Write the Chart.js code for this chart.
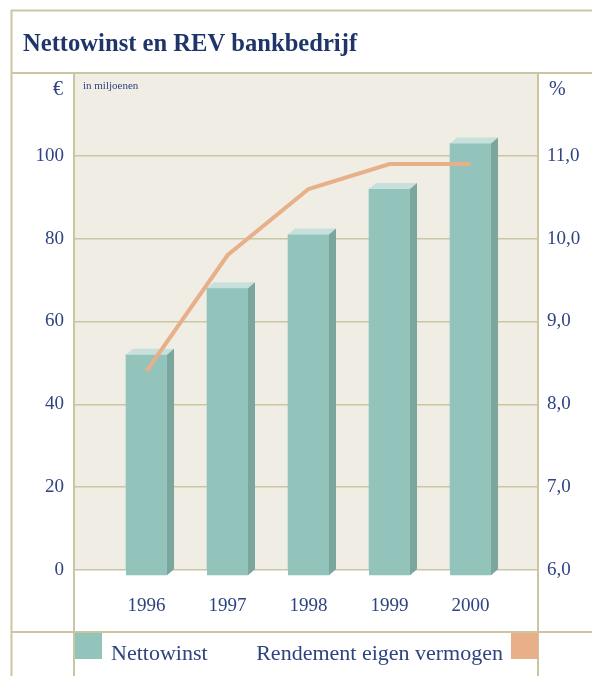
<!DOCTYPE html>
<html>
<head>
<meta charset="utf-8">
<script src="https://cdn.jsdelivr.net/npm/chart.js@4/dist/chart.umd.min.js"></script>
<style>
  html, body { margin: 0; padding: 0; background: #fff; }
  canvas { display: block; }
</style>
</head>
<body>
<canvas id="chart" width="592" height="676"></canvas>
<script>
const years = ['1996', '1997', '1998', '1999', '2000'];
const nettowinst = [52, 68, 81, 92, 103];       // € mln, left axis
const rendement = [8.4, 9.8, 10.6, 10.9, 10.9]; // %, right axis

const navy = '#2e4380';
const titleBlue = '#1f3569';
const rule = '#cbc6a1';
const paper = '#f0ede4';
const teal = '#93c4bc';
const tealTop = '#c8e0db';
const tealSide = '#7aa69e';
const salmon = '#e8b089';
const serif = "'Liberation Serif', 'DejaVu Serif', serif";

const depth = { dx: 7, dy: 6 };

// beige plot background
const paperBg = {
  id: 'paperBg',
  beforeDraw(chart) {
    const { ctx, chartArea: a } = chart;
    ctx.save();
    ctx.fillStyle = paper;
    ctx.fillRect(a.left, a.top, a.right - a.left, a.bottom - a.top);
    ctx.restore();
  }
};

// fake 3d faces on the bars, drawn before the line
const bars3d = {
  id: 'bars3d',
  afterDatasetDraw(chart, args) {
    if (args.meta.type !== 'bar') return;
    const { ctx } = chart;
    args.meta.data.forEach((bar) => {
      const { x, y, base, width } = bar.getProps(['x', 'y', 'base', 'width'], true);
      const l = x - width / 2, r = x + width / 2;
      ctx.save();
      ctx.fillStyle = teal;
      ctx.fillRect(l, y, width, base + depth.dy - y);
      ctx.fillStyle = tealTop;
      ctx.beginPath();
      ctx.moveTo(l, y);
      ctx.lineTo(l + depth.dx, y - depth.dy);
      ctx.lineTo(r + depth.dx, y - depth.dy);
      ctx.lineTo(r, y);
      ctx.closePath();
      ctx.fill();
      ctx.fillStyle = tealSide;
      ctx.beginPath();
      ctx.moveTo(r, y);
      ctx.lineTo(r + depth.dx, y - depth.dy);
      ctx.lineTo(r + depth.dx, base);
      ctx.lineTo(r, base + depth.dy);
      ctx.closePath();
      ctx.fill();
      ctx.restore();
    });
  }
};

// frame rules, title, units and legend
const frame = {
  id: 'frame',
  afterDraw(chart) {
    const { ctx, chartArea: a, width, height } = chart;
    const legendY = 632;
    ctx.save();
    ctx.strokeStyle = rule;
    ctx.lineWidth = 2;
    ctx.beginPath();
    ctx.moveTo(11, 10.5); ctx.lineTo(width, 10.5);
    ctx.moveTo(11.5, 10); ctx.lineTo(11.5, height);
    ctx.moveTo(11, a.top); ctx.lineTo(width, a.top);
    ctx.moveTo(11, legendY); ctx.lineTo(width, legendY);
    ctx.moveTo(a.left, a.top); ctx.lineTo(a.left, height);
    ctx.moveTo(a.right, a.top); ctx.lineTo(a.right, height);
    ctx.stroke();

    ctx.fillStyle = titleBlue;
    ctx.font = 'bold 24.6px ' + serif;
    ctx.textBaseline = 'alphabetic';
    ctx.textAlign = 'left';
    ctx.fillText('Nettowinst en REV bankbedrijf', 23, 51);

    ctx.fillStyle = navy;
    ctx.font = '20px ' + serif;
    ctx.textAlign = 'right';
    ctx.fillText('€', a.left - 11, 95);
    ctx.textAlign = 'left';
    ctx.fillText('%', a.right + 11, 95);
    ctx.font = '11px ' + serif;
    ctx.fillText('in miljoenen', a.left + 9, 89);

    const [lineDs, barDs] = chart.data.datasets;
    ctx.fillStyle = barDs.backgroundColor;
    ctx.fillRect(a.left + 1, legendY + 1, 27, 26);
    ctx.fillStyle = lineDs.borderColor;
    ctx.fillRect(a.right - 27, legendY + 1, 27, 26);
    ctx.fillStyle = navy;
    ctx.font = '22px ' + serif;
    ctx.textAlign = 'left';
    ctx.fillText(barDs.label, a.left + 37, 660);
    ctx.textAlign = 'right';
    ctx.fillText(lineDs.label, a.right - 35, 660);
    ctx.restore();
  }
};

const tickFont = { family: serif, size: 19 };

new Chart(document.getElementById('chart'), {
  type: 'bar',
  data: {
    datasets: [
      {
        type: 'line',
        label: 'Rendement eigen vermogen',
        data: rendement.map((v, i) => ({ x: i, y: v })),
        yAxisID: 'y1',
        borderColor: salmon,
        backgroundColor: salmon,
        borderWidth: 4,
        pointRadius: 0,
        tension: 0,
        order: 0
      },
      {
        type: 'bar',
        label: 'Nettowinst',
        data: nettowinst.map((v, i) => ({ x: i, y: v })),
        yAxisID: 'y',
        backgroundColor: teal,
        barThickness: 41,
        order: 1
      }
    ]
  },
  options: {
    responsive: false,
    animation: false,
    events: [],
    layout: { padding: { top: 73, left: 0, right: 0, bottom: 0 } },
    plugins: { legend: { display: false }, tooltip: { enabled: false } },
    scales: {
      x: {
        type: 'linear',
        offset: false,
        min: -0.895,
        max: 4.833,
        afterFit: (s) => { s.height = 106; },
        afterBuildTicks: (s) => { s.ticks = years.map((_, i) => ({ value: i })); },
        grid: { display: false },
        border: { display: false },
        ticks: {
          autoSkip: false,
          maxRotation: 0,
          padding: 17,
          color: navy,
          font: tickFont,
          callback: (v) => years[v]
        }
      },
      y: {
        position: 'left',
        min: 0,
        max: 120,
        afterFit: (s) => { s.width = 74; },
        grid: { color: rule, lineWidth: 1.5, drawTicks: false },
        border: { display: false },
        ticks: {
          stepSize: 20,
          padding: 10,
          color: navy,
          font: tickFont,
          callback: (v) => (v > 100 ? '' : v)
        }
      },
      y1: {
        position: 'right',
        min: 6,
        max: 12,
        afterFit: (s) => { s.width = 54; },
        grid: { display: false, drawTicks: false },
        border: { display: false },
        ticks: {
          stepSize: 1,
          padding: 9,
          color: navy,
          font: tickFont,
          callback: (v) => (v > 11 ? '' : v.toFixed(1).replace('.', ','))
        }
      }
    }
  },
  plugins: [paperBg, bars3d, frame]
});
</script>
</body>
</html>
